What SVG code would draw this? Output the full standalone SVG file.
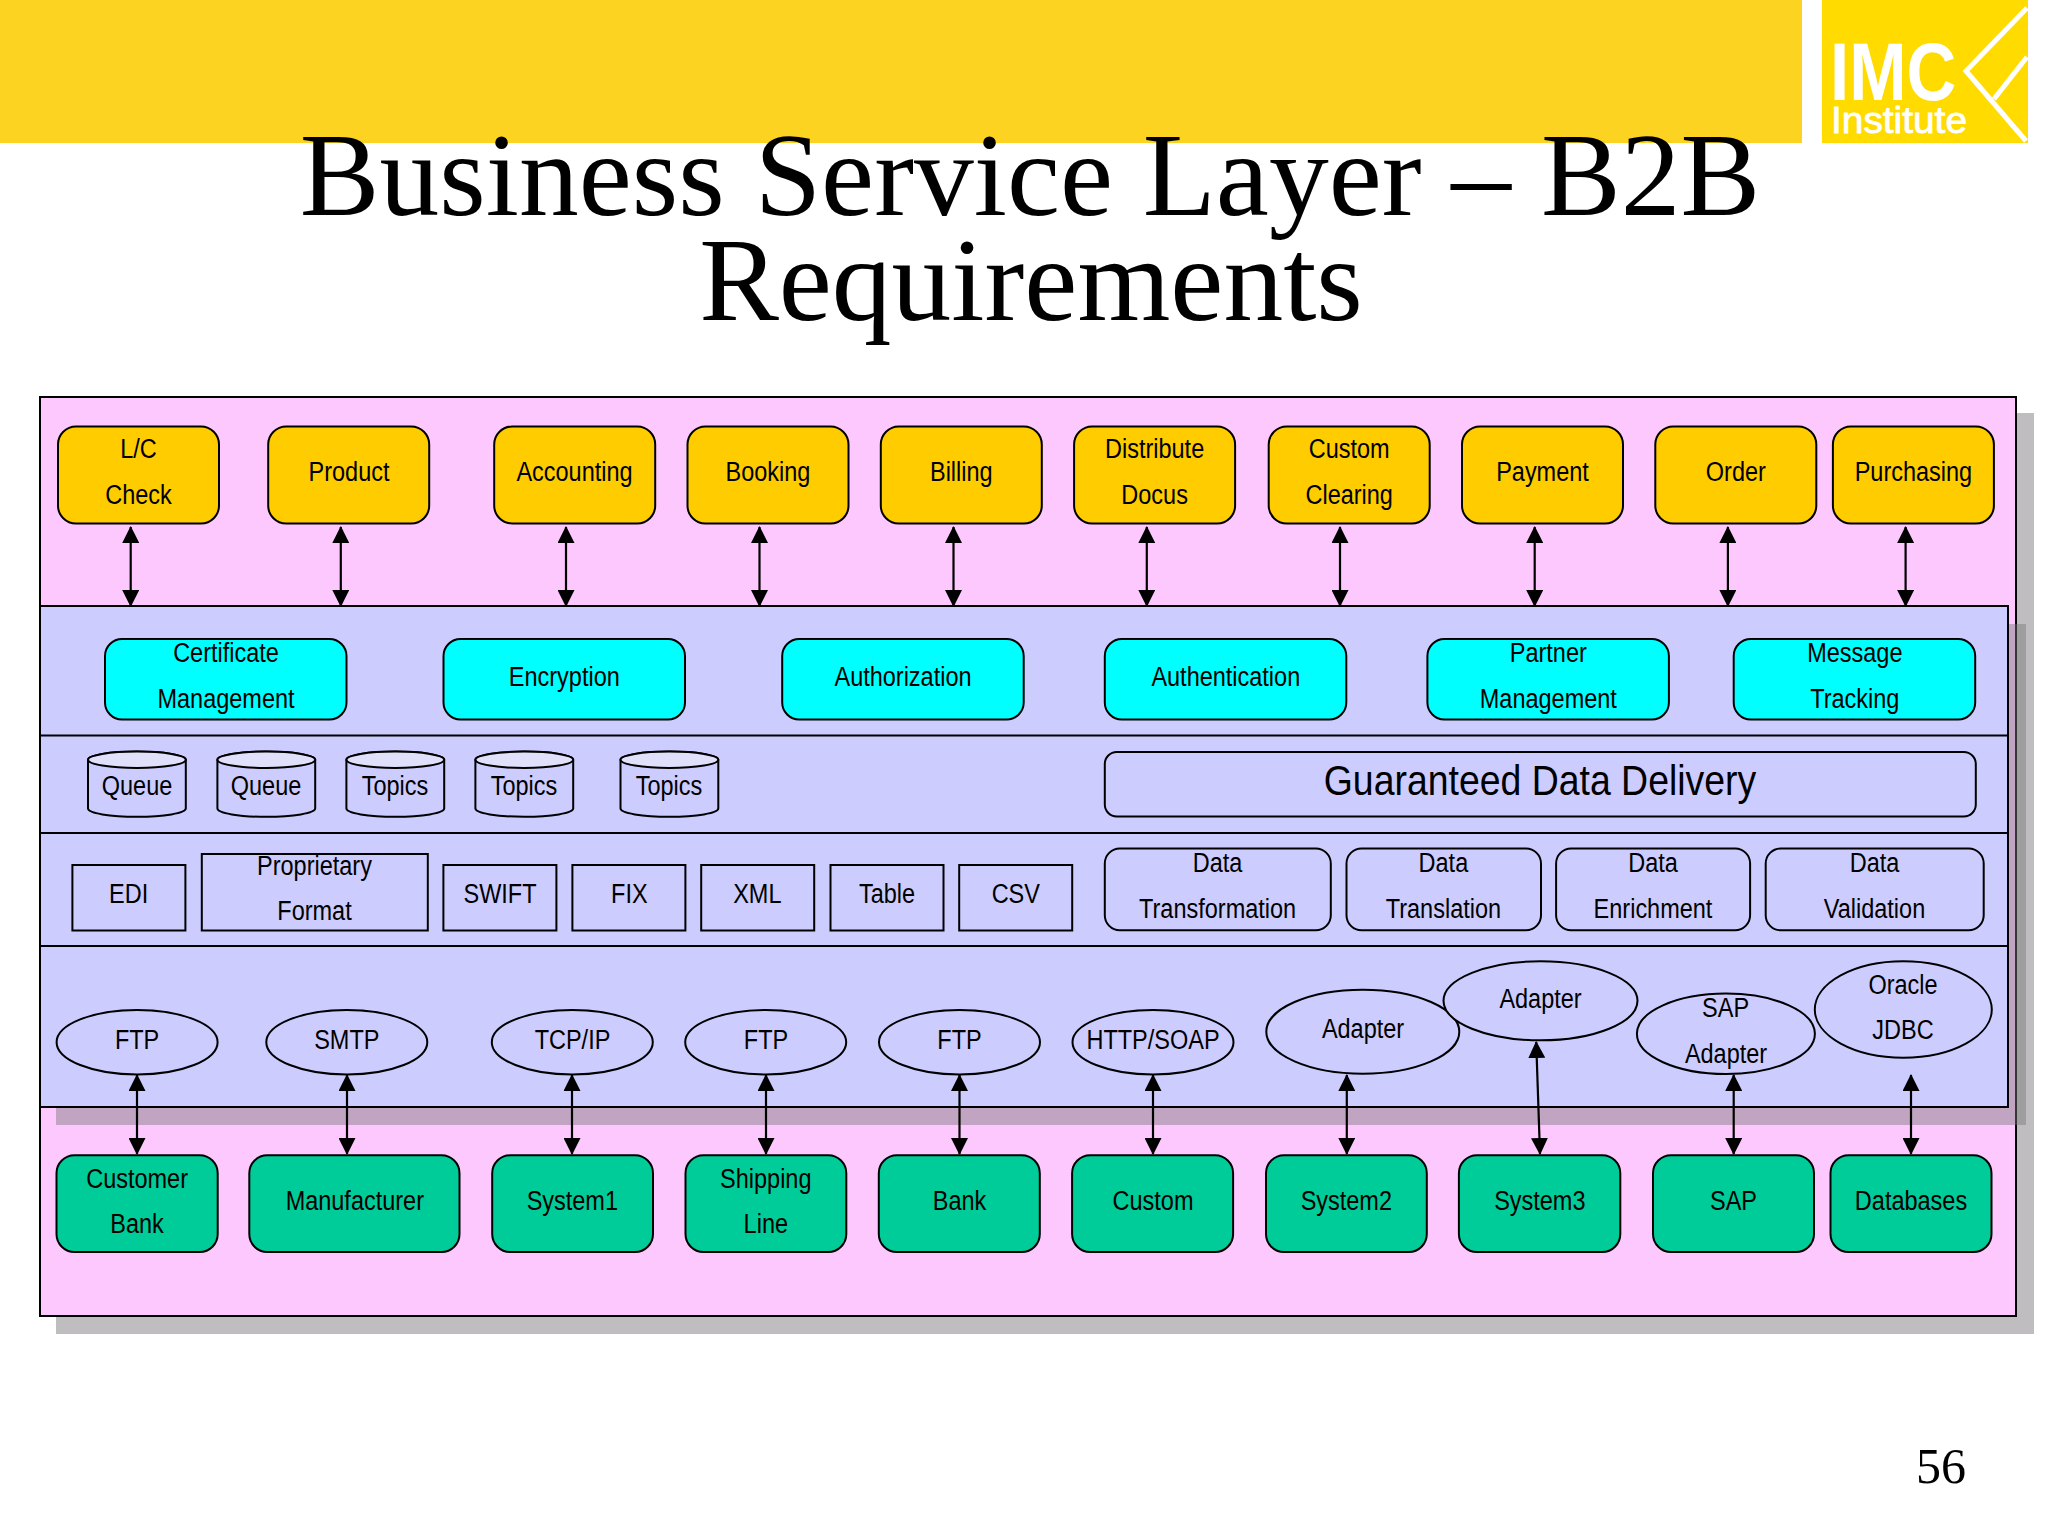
<svg xmlns="http://www.w3.org/2000/svg" width="2048" height="1536" viewBox="0 0 2048 1536">
<style>
.t{font-family:"Liberation Sans",Arial,sans-serif;font-size:27px;text-anchor:middle;fill:#000}
.g{font-size:43px}
.title{font-family:"Liberation Serif","Times New Roman",serif;font-size:119.5px;text-anchor:middle;fill:#000}
.s{stroke:#000;stroke-width:2}
.o{fill:#ffcc00}.c{fill:#00ffff}.n{fill:#00cc99}.p{fill:#ccccff}
.a{stroke:#000;stroke-width:2.2;fill:none;marker-start:url(#h);marker-end:url(#h)}
</style>
<defs>
<marker id="h" markerUnits="userSpaceOnUse" markerWidth="17" markerHeight="17" viewBox="0 0 17 17" refX="16" refY="8.5" orient="auto-start-reverse"><path d="M0 0L17 8.5L0 17Z" fill="#000"/></marker>
<g id="cyl"><path d="M0 8.2A48.9 8.2 0 0 1 97.8 8.2V57A48.9 8.2 0 0 1 0 57Z" class="p s"/><ellipse cx="48.9" cy="8.2" rx="48.9" ry="8.2" fill="#e0e0fb" class="s"/></g>
</defs>
<rect width="2048" height="1536" fill="#fff"/>
<g id="banner">
<rect x="0" y="0" width="1802" height="143" fill="#fdd321"/>
<rect x="1822" y="0" width="206" height="143" fill="#ffdb00"/>
<path d="M2027 8L1966 71L2026 141M2027 57L1994 99" fill="none" stroke="#fff" stroke-width="5"/>
<text transform="translate(1830 100) scale(.85 1)" font-family="Liberation Sans,sans-serif" font-weight="bold" font-size="81" fill="#fff">IMC</text>
<text transform="translate(1831 133) scale(1.05 1)" font-family="Liberation Sans,sans-serif" font-size="37" fill="#fff" stroke="#fff" stroke-width=".8">Institute</text>
</g>
<g id="title">
<text class="title" x="1030" y="215">Business Service Layer – B2B</text>
<text class="title" x="1031" y="320">Requirements</text>
</g>
<g id="frame">
<rect x="56" y="413" width="1978" height="921" fill="#bfbdbf"/>
<rect x="40" y="397" width="1976" height="919" fill="#fdc8fd" class="s"/>
<rect x="56" y="624" width="1970" height="501" fill="#777" opacity=".45"/>
<rect x="40" y="606" width="1968" height="501" class="p s"/>
<path d="M40 735.5H2008M40 833H2008M40 946H2008" class="s" fill="none"/>
</g>
<g id="apps">
<g id="lc"><rect x="58" y="426.5" width="161" height="97" rx="18" class="o s"/><text class="t" transform="translate(138.5 458) scale(.87 1)">L/C</text><text class="t" transform="translate(138.5 503.5) scale(.87 1)">Check</text></g>
<g id="product"><rect x="268.2" y="426.5" width="161" height="97" rx="18" class="o s"/><text class="t" transform="translate(349 481) scale(.87 1)">Product</text></g>
<g id="accounting"><rect x="494.2" y="426.5" width="161" height="97" rx="18" class="o s"/><text class="t" transform="translate(574.5 481) scale(.87 1)">Accounting</text></g>
<g id="booking"><rect x="687.5" y="426.5" width="161" height="97" rx="18" class="o s"/><text class="t" transform="translate(768 481) scale(.87 1)">Booking</text></g>
<g id="billing"><rect x="880.8" y="426.5" width="161" height="97" rx="18" class="o s"/><text class="t" transform="translate(961.3 481) scale(.87 1)">Billing</text></g>
<g id="distribute"><rect x="1074.1" y="426.5" width="161" height="97" rx="18" class="o s"/><text class="t" transform="translate(1154.6 458) scale(.87 1)">Distribute</text><text class="t" transform="translate(1154.6 503.5) scale(.87 1)">Docus</text></g>
<g id="clearing"><rect x="1268.7" y="426.5" width="161" height="97" rx="18" class="o s"/><text class="t" transform="translate(1349.2 458) scale(.87 1)">Custom</text><text class="t" transform="translate(1349.2 503.5) scale(.87 1)">Clearing</text></g>
<g id="payment"><rect x="1462" y="426.5" width="161" height="97" rx="18" class="o s"/><text class="t" transform="translate(1542.5 481) scale(.87 1)">Payment</text></g>
<g id="order"><rect x="1655.3" y="426.5" width="161" height="97" rx="18" class="o s"/><text class="t" transform="translate(1735.8 481) scale(.87 1)">Order</text></g>
<g id="purchasing"><rect x="1832.9" y="426.5" width="161" height="97" rx="18" class="o s"/><text class="t" transform="translate(1913.4 481) scale(.87 1)">Purchasing</text></g>
</g>
<g id="security">
<g id="cert"><rect x="105" y="639" width="241.5" height="80.5" rx="17" class="c s"/><text class="t" transform="translate(226 662) scale(.87 1)">Certificate</text><text class="t" transform="translate(226 707.7) scale(.87 1)">Management</text></g>
<g id="encryption"><rect x="443.5" y="639" width="241.5" height="80.5" rx="17" class="c s"/><text class="t" transform="translate(564.3 685.5) scale(.87 1)">Encryption</text></g>
<g id="authorization"><rect x="782.2" y="639" width="241.5" height="80.5" rx="17" class="c s"/><text class="t" transform="translate(903 685.5) scale(.87 1)">Authorization</text></g>
<g id="authentication"><rect x="1104.8" y="639" width="241.5" height="80.5" rx="17" class="c s"/><text class="t" transform="translate(1225.8 685.5) scale(.87 1)">Authentication</text></g>
<g id="partner"><rect x="1427.4" y="639" width="241.5" height="80.5" rx="17" class="c s"/><text class="t" transform="translate(1548.3 662) scale(.87 1)">Partner</text><text class="t" transform="translate(1548.3 707.7) scale(.87 1)">Management</text></g>
<g id="message"><rect x="1733.7" y="639" width="241.5" height="80.5" rx="17" class="c s"/><text class="t" transform="translate(1854.8 662) scale(.87 1)">Message</text><text class="t" transform="translate(1854.8 707.7) scale(.87 1)">Tracking</text></g>
</g>
<g id="delivery">
<g id="q1"><use href="#cyl" x="88" y="751.6"/><text class="t" transform="translate(137 794.5) scale(.87 1)">Queue</text></g>
<g id="q2"><use href="#cyl" x="217.4" y="751.6"/><text class="t" transform="translate(266 794.5) scale(.87 1)">Queue</text></g>
<g id="t1"><use href="#cyl" x="346.4" y="751.6"/><text class="t" transform="translate(395 794.5) scale(.87 1)">Topics</text></g>
<g id="t2"><use href="#cyl" x="475.4" y="751.6"/><text class="t" transform="translate(524 794.5) scale(.87 1)">Topics</text></g>
<g id="t3"><use href="#cyl" x="620.5" y="751.6"/><text class="t" transform="translate(669 794.5) scale(.87 1)">Topics</text></g>
<g id="gdd"><rect x="1104.8" y="752" width="871" height="64.5" rx="12" class="p s"/><text class="t g" transform="translate(1540 794.5) scale(.87 1)">Guaranteed Data Delivery</text></g>
</g>
<g id="formats">
<g id="edi"><rect x="72.4" y="865" width="113" height="65.5" class="p s"/><text class="t" transform="translate(128.6 903.3) scale(.87 1)">EDI</text></g>
<g id="prop"><rect x="201.8" y="854" width="226" height="76.5" class="p s"/><text class="t" transform="translate(314.5 875) scale(.87 1)">Proprietary</text><text class="t" transform="translate(314.5 920.2) scale(.87 1)">Format</text></g>
<g id="swift"><rect x="443.4" y="865" width="113" height="65.5" class="p s"/><text class="t" transform="translate(500 903.3) scale(.87 1)">SWIFT</text></g>
<g id="fix"><rect x="572.4" y="865" width="113" height="65.5" class="p s"/><text class="t" transform="translate(629.3 903.3) scale(.87 1)">FIX</text></g>
<g id="xml"><rect x="701.2" y="865" width="113" height="65.5" class="p s"/><text class="t" transform="translate(757.3 903.3) scale(.87 1)">XML</text></g>
<g id="table"><rect x="830.5" y="865" width="113" height="65.5" class="p s"/><text class="t" transform="translate(887 903.3) scale(.87 1)">Table</text></g>
<g id="csv"><rect x="959.2" y="865" width="113" height="65.5" class="p s"/><text class="t" transform="translate(1015.8 903.3) scale(.87 1)">CSV</text></g>
<g id="dt"><rect x="1104.8" y="848.5" width="226" height="81.8" rx="15" class="p s"/><text class="t" transform="translate(1217.6 872) scale(.87 1)">Data</text><text class="t" transform="translate(1217.6 917.5) scale(.87 1)">Transformation</text></g>
<g id="dtr"><rect x="1346.5" y="848.5" width="194.5" height="81.8" rx="15" class="p s"/><text class="t" transform="translate(1443.4 872) scale(.87 1)">Data</text><text class="t" transform="translate(1443.4 917.5) scale(.87 1)">Translation</text></g>
<g id="de"><rect x="1556.1" y="848.5" width="194" height="81.8" rx="15" class="p s"/><text class="t" transform="translate(1653 872) scale(.87 1)">Data</text><text class="t" transform="translate(1653 917.5) scale(.87 1)">Enrichment</text></g>
<g id="dv"><rect x="1765.7" y="848.5" width="218" height="81.8" rx="15" class="p s"/><text class="t" transform="translate(1874.5 872) scale(.87 1)">Data</text><text class="t" transform="translate(1874.5 917.5) scale(.87 1)">Validation</text></g>
</g>
<g id="protocols">
<g id="e1"><ellipse cx="137.1" cy="1042.2" rx="80.5" ry="32.3" class="p s"/><text class="t" transform="translate(137.1 1049) scale(.87 1)">FTP</text></g>
<g id="e2"><ellipse cx="346.8" cy="1042.2" rx="80.5" ry="32.3" class="p s"/><text class="t" transform="translate(346.8 1049) scale(.87 1)">SMTP</text></g>
<g id="e3"><ellipse cx="572.3" cy="1042.2" rx="80.5" ry="32.3" class="p s"/><text class="t" transform="translate(572.5 1049) scale(.87 1)">TCP/IP</text></g>
<g id="e4"><ellipse cx="765.7" cy="1042.2" rx="80.5" ry="32.3" class="p s"/><text class="t" transform="translate(766 1049) scale(.87 1)">FTP</text></g>
<g id="e5"><ellipse cx="959.5" cy="1042.2" rx="80.5" ry="32.3" class="p s"/><text class="t" transform="translate(959.5 1049) scale(.87 1)">FTP</text></g>
<g id="e6"><ellipse cx="1153" cy="1042.2" rx="80.5" ry="32.3" class="p s"/><text class="t" transform="translate(1153 1049) scale(.87 1)">HTTP/SOAP</text></g>
<g id="e7"><ellipse cx="1362.8" cy="1031.7" rx="96.5" ry="42" class="p s"/><text class="t" transform="translate(1363 1038) scale(.87 1)">Adapter</text></g>
<g id="e8"><ellipse cx="1540.5" cy="1000.8" rx="97" ry="39.5" class="p s"/><text class="t" transform="translate(1540.5 1008) scale(.87 1)">Adapter</text></g>
<g id="e9"><ellipse cx="1725.9" cy="1033.8" rx="89" ry="40.2" class="p s"/><text class="t" transform="translate(1725.6 1017) scale(.87 1)">SAP</text><text class="t" transform="translate(1726 1062.5) scale(.87 1)">Adapter</text></g>
<g id="e10"><ellipse cx="1903.3" cy="1009.5" rx="88.5" ry="48.2" class="p s"/><text class="t" transform="translate(1903 994) scale(.87 1)">Oracle</text><text class="t" transform="translate(1903 1038.8) scale(.87 1)">JDBC</text></g>
</g>
<g id="partners">
<g id="customer"><rect x="56.5" y="1155.3" width="161.2" height="96.8" rx="18" class="n s"/><text class="t" transform="translate(137.1 1187.5) scale(.87 1)">Customer</text><text class="t" transform="translate(137.1 1232.5) scale(.87 1)">Bank</text></g>
<g id="manu"><rect x="249.3" y="1155.3" width="210.2" height="96.8" rx="18" class="n s"/><text class="t" transform="translate(354.8 1210) scale(.87 1)">Manufacturer</text></g>
<g id="sys1"><rect x="492.2" y="1155.3" width="160.8" height="96.8" rx="18" class="n s"/><text class="t" transform="translate(572.3 1210) scale(.87 1)">System1</text></g>
<g id="ship"><rect x="685.5" y="1155.3" width="160.8" height="96.8" rx="18" class="n s"/><text class="t" transform="translate(765.8 1187.5) scale(.87 1)">Shipping</text><text class="t" transform="translate(765.8 1232.5) scale(.87 1)">Line</text></g>
<g id="bank"><rect x="878.8" y="1155.3" width="161" height="96.8" rx="18" class="n s"/><text class="t" transform="translate(959.5 1210) scale(.87 1)">Bank</text></g>
<g id="custom"><rect x="1072.1" y="1155.3" width="161" height="96.8" rx="18" class="n s"/><text class="t" transform="translate(1153 1210) scale(.87 1)">Custom</text></g>
<g id="sys2"><rect x="1266" y="1155.3" width="160.8" height="96.8" rx="18" class="n s"/><text class="t" transform="translate(1346.3 1210) scale(.87 1)">System2</text></g>
<g id="sys3"><rect x="1458.9" y="1155.3" width="161.4" height="96.8" rx="18" class="n s"/><text class="t" transform="translate(1539.8 1210) scale(.87 1)">System3</text></g>
<g id="sap"><rect x="1653" y="1155.3" width="161" height="96.8" rx="18" class="n s"/><text class="t" transform="translate(1733.5 1210) scale(.87 1)">SAP</text></g>
<g id="db"><rect x="1830.5" y="1155.3" width="161" height="96.8" rx="18" class="n s"/><text class="t" transform="translate(1911 1210) scale(.87 1)">Databases</text></g>
</g>
<g id="connectors">
<path class="a" d="M130.7 527V606"/><path class="a" d="M340.8 527V606"/><path class="a" d="M566 527V606"/><path class="a" d="M759.5 527V606"/><path class="a" d="M953.5 527V606"/><path class="a" d="M1146.8 527V606"/><path class="a" d="M1340 527V606"/><path class="a" d="M1534.7 527V606"/><path class="a" d="M1727.9 527V606"/><path class="a" d="M1905.6 527V606"/>
<path class="a" d="M137 1075V1154"/><path class="a" d="M347 1075V1154"/><path class="a" d="M572 1075V1154"/><path class="a" d="M766 1075V1154"/><path class="a" d="M959.5 1075V1154"/><path class="a" d="M1153 1075V1154"/><path class="a" d="M1346.8 1075V1154"/><path class="a" d="M1536.2 1042L1540 1154"/><path class="a" d="M1733.7 1075V1154"/><path class="a" d="M1911 1075V1154"/>
</g>
<text id="page" x="1941" y="1483" font-family="Liberation Serif,serif" font-size="50" text-anchor="middle">56</text>
</svg>
